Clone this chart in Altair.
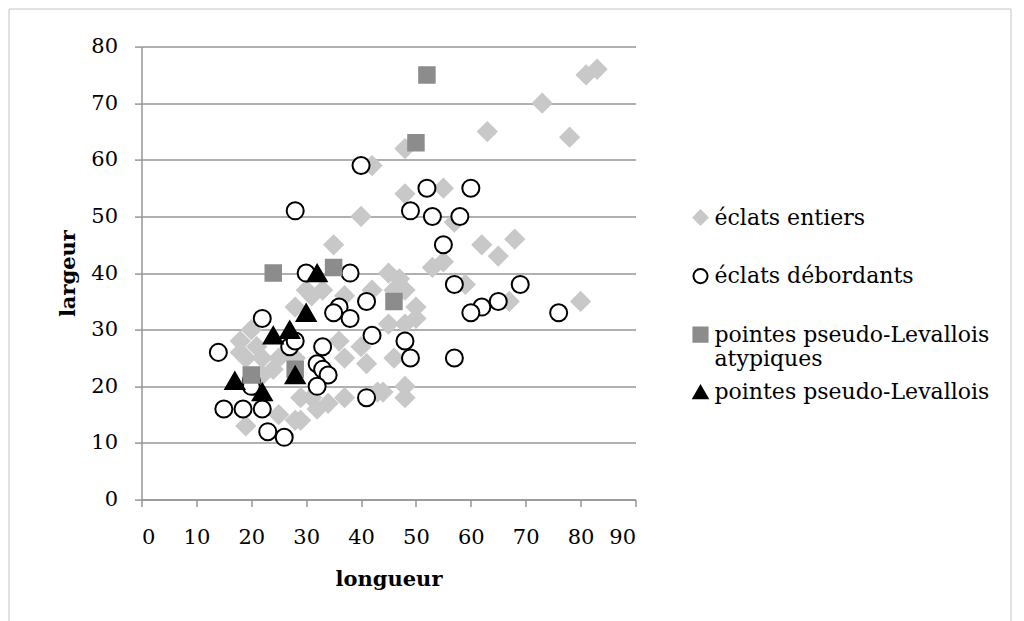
import altair as alt
import pandas as pd

series_names = [
    "éclats entiers",
    "éclats débordants",
    "pointes pseudo-Levallois atypiques",
    "pointes pseudo-Levallois",
]

entiers_x = [83, 81, 73, 63, 78, 48, 42, 48, 55, 40, 57, 35, 62, 68, 65, 53, 55, 45, 47, 48,
             42, 59, 67, 80, 50, 50, 48, 45, 46, 48, 48, 44, 30, 31, 28, 33, 37, 46, 20, 18,
             18, 21, 22, 19, 25, 28, 36, 37, 41, 40, 37, 43, 32, 29, 28, 25, 19, 29, 34, 31,
             22, 24]
entiers_y = [76, 75, 70, 65, 64, 62, 59, 54, 55, 50, 49, 45, 45, 46, 43, 41, 42, 40, 39, 37,
             37, 38, 35, 35, 34, 32, 31, 31, 25, 20, 18, 19, 37, 36, 34, 37, 36, 37, 30, 28,
             26, 27, 25, 25, 25, 25, 28, 25, 24, 27, 18, 19, 16, 14, 14, 15, 13, 18, 17, 18,
             22, 23]

debordants_x = [40, 28, 52, 60, 49, 53, 58, 55, 30, 38, 41, 36, 35, 38, 42, 57, 69, 65, 62, 60,
                76, 22, 27, 28, 33, 32, 33, 34, 32, 20, 20, 14, 15, 18.5, 22, 23, 26, 48, 49, 57,
                41]
debordants_y = [59, 51, 55, 55, 51, 50, 50, 45, 40, 40, 35, 34, 33, 32, 29, 38, 38, 35, 34, 33,
                33, 32, 27, 28, 27, 24, 23, 22, 20, 21, 20, 26, 16, 16, 16, 12, 11, 28, 25, 25,
                18]

atypiques_x = [52, 50, 24, 35, 46, 20, 28]
atypiques_y = [75, 63, 40, 41, 35, 22, 23]

pointes_x = [32, 30, 24, 27, 17, 22, 28]
pointes_y = [40, 33, 29, 30, 21, 19, 22]

x_ticks = list(range(0, 91, 10))
y_ticks = list(range(0, 81, 10))

FONT = "DejaVu Serif"
GRID = "#969696"

shape_scale = alt.Scale(domain=series_names, range=["diamond", "circle", "square", "triangle-up"])
fill_scale = alt.Scale(domain=series_names, range=["#c8c8c8", "#ffffff", "#8c8c8c", "#000000"])
stroke_scale = alt.Scale(domain=series_names, range=["#c8c8c8", "#000000", "#8c8c8c", "#000000"])

legend = alt.Legend(
    title=None,
    orient="none",
    legendX=548,
    legendY=160,
    labelFont=FONT,
    labelFontSize=22,
    labelColor="black",
    labelLimit=500,
    labelOffset=3,
    symbolSize=200,
    symbolStrokeWidth=2,
    rowPadding=11.5,
    labelExpr=(
        "datum.label == 'pointes pseudo-Levallois atypiques'"
        " ? ['pointes pseudo-Levallois', 'atypiques']"
        " : [datum.label, '']"
    ),
)

x_enc = alt.X(
    "longueur:Q",
    scale=alt.Scale(domain=[0, 90], nice=False),
    axis=alt.Axis(values=x_ticks, title="longueur", grid=False,
                  labelPadding=20, titlePadding=21),
)
y_enc = alt.Y(
    "largeur:Q",
    scale=alt.Scale(domain=[0, 80], nice=False),
    axis=alt.Axis(values=y_ticks, title="largeur", grid=True,
                  labelPadding=17, titlePadding=12),
)


def series_layer(name, xs, ys, size):
    d = pd.DataFrame({"longueur": xs, "largeur": ys, "serie": [name] * len(xs)})
    return alt.Chart(d).mark_point(opacity=1, strokeWidth=2, filled=False, size=size).encode(
        x=x_enc,
        y=y_enc,
        shape=alt.Shape("serie:N", scale=shape_scale, legend=legend),
        fill=alt.Fill("serie:N", scale=fill_scale, legend=legend),
        stroke=alt.Stroke("serie:N", scale=stroke_scale, legend=legend),
    )


layers = [
    series_layer(series_names[0], entiers_x, entiers_y, 340),
    series_layer(series_names[1], debordants_x, debordants_y, 290),
    series_layer(series_names[2], atypiques_x, atypiques_y, 240),
    series_layer(series_names[3], pointes_x, pointes_y, 360),
]

frame = alt.Chart(pd.DataFrame({"f": [0]})).mark_rect(
    fill="transparent", stroke="#c4c4c4", strokeWidth=1
).encode(
    x=alt.value(-132.5), x2=alt.value(869.5), y=alt.value(-37.6), y2=alt.value(700)
)

chart = alt.layer(frame, *layers).properties(
    width=494,
    height=453,
    autosize=alt.AutoSizeParams(type="none"),
    padding={"left": 133.5, "top": 38.6, "right": 380.5, "bottom": 121.4},
).configure_view(strokeWidth=0).configure_axis(
    labelFont=FONT, labelFontSize=21, labelColor="black",
    titleFont=FONT, titleFontSize=21, titleFontWeight="bold", titleColor="black",
    domainColor=GRID, domainWidth=1.5, tickColor=GRID, tickWidth=1.5, tickSize=7,
    gridColor=GRID, gridWidth=1.5,
).configure_legend(
    labelFont=FONT, labelFontSize=22, labelColor="black", labelLimit=500,
    symbolSize=200, symbolStrokeWidth=2,
)

chart.save("out.html", embed_options={"renderer": "svg", "actions": False})
